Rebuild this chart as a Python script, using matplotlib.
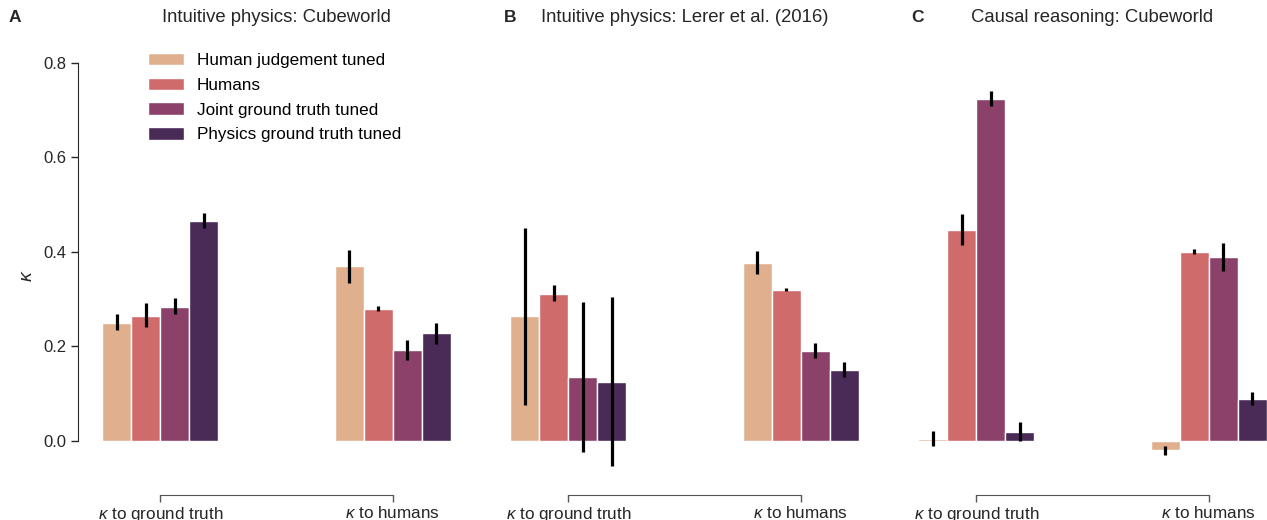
import numpy as np
import matplotlib.pyplot as plt

plt.rcParams['font.family'] = ['Liberation Sans', 'DejaVu Sans']
plt.rcParams['mathtext.fontset'] = 'custom'
plt.rcParams['mathtext.it'] = 'Liberation Sans:italic'
plt.rcParams['mathtext.rm'] = 'Liberation Sans'

models = ["Human judgement tuned", "Humans", "Joint ground truth tuned",
          "Physics ground truth tuned"]
colors = ["#e0b08e", "#d06b6c", "#8c416b", "#4a2a57"]
groups = [r"$\kappa$ to ground truth", r"$\kappa$ to humans"]

titles = ["Intuitive physics: Cubeworld",
          "Intuitive physics: Lerer et al. (2016)",
          "Causal reasoning: Cubeworld"]
letters = ["A", "B", "C"]

# mean kappa per model (rows) for each comparison (cols)
cube_mean = [[0.250, 0.370], [0.265, 0.279], [0.284, 0.193], [0.465, 0.228]]
cube_lo = [[0.235, 0.334], [0.240, 0.274], [0.269, 0.171], [0.451, 0.205]]
cube_hi = [[0.269, 0.405], [0.291, 0.286], [0.303, 0.214], [0.482, 0.250]]

lerer_mean = [[0.265, 0.376], [0.311, 0.319], [0.135, 0.191], [0.125, 0.150]]
lerer_lo = [[0.076, 0.354], [0.295, 0.317], [-0.024, 0.176], [-0.053, 0.135]]
lerer_hi = [[0.450, 0.401], [0.329, 0.323], [0.293, 0.208], [0.304, 0.166]]

causal_mean = [[0.004, -0.019], [0.447, 0.400], [0.724, 0.389], [0.018, 0.089]]
causal_lo = [[-0.010, -0.030], [0.415, 0.395], [0.710, 0.360], [-0.001, 0.076]]
causal_hi = [[0.021, -0.011], [0.480, 0.406], [0.741, 0.419], [0.040, 0.104]]

panels = [(cube_mean, cube_lo, cube_hi),
          (lerer_mean, lerer_lo, lerer_hi),
          (causal_mean, causal_lo, causal_hi)]

W, H = 1267, 520
fig = plt.figure(figsize=(W / 100, H / 100), dpi=100)

ax_w = 383 / W
ax_b = 32 / H
ax_h = (488 - 63) / H
lefts = [85, 493, 901]
letter_x = [15, 510, 918]

bar_w = 0.125
n = len(models)
ink = "#262626"

for p, (mean, lo, hi) in enumerate(panels):
    ax = fig.add_axes([lefts[p] / W, ax_b, ax_w, ax_h])
    x = np.arange(len(groups))
    for i in range(n):
        m = np.array(mean[i])
        xs = x + (i - (n - 1) / 2) * bar_w
        ax.bar(xs, m, width=bar_w, color=colors[i], edgecolor="white",
               linewidth=1, label=models[i], zorder=2)
        yerr = [m - np.array(lo[i]), np.array(hi[i]) - m]
        ax.errorbar(xs, m, yerr=yerr, fmt="none", ecolor="black",
                    elinewidth=2.3, capsize=0, zorder=3)

    ax.set_xlim(-0.325, 1.325)
    ax.set_ylim(-0.1, 0.8)
    ax.set_xticks(x)
    ax.set_xticklabels(groups)
    ax.tick_params(axis="x", length=5, width=1, color="#555555", pad=2,
                   labelsize=12.3, labelcolor=ink)

    for s in ["top", "right"]:
        ax.spines[s].set_visible(False)
    ax.spines["bottom"].set_position(("outward", 5))
    ax.spines["bottom"].set_bounds(0, 1)
    ax.spines["bottom"].set_color("#555555")

    if p == 0:
        ax.spines["left"].set_position(("outward", 5))
        ax.spines["left"].set_bounds(0, 0.8)
        ax.spines["left"].set_color(ink)
        ax.set_yticks([0.0, 0.2, 0.4, 0.6, 0.8])
        ax.set_yticklabels(["0.0", "0.2", "0.4", "0.6", "0.8"])
        ax.tick_params(axis="y", labelsize=12, length=5, width=1,
                       color=ink, labelcolor=ink)
        ax.set_ylabel(r"$\kappa$", fontsize=14, labelpad=5, color=ink)
        ax.legend(frameon=False, fontsize=12.3, loc="upper left",
                  bbox_to_anchor=(0.125, 1.06), handlelength=2.1,
                  handleheight=0.75, labelspacing=0.56, handletextpad=0.75)
    else:
        ax.spines["left"].set_visible(False)
        ax.set_yticks([])

    fig.text((lefts[p] + 383 / 2) / W, 1 - 17 / H, titles[p], ha="center",
             va="center", fontsize=13.3, color=ink)
    fig.text(letter_x[p] / W, 1 - 17 / H, letters[p], ha="center",
             va="center", fontsize=12.5, fontweight="bold", color=ink)

fig.savefig("out.png", dpi=100)
